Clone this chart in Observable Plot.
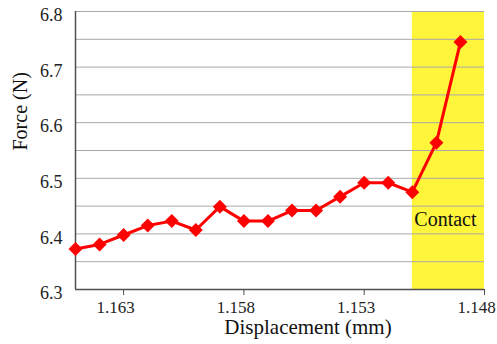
<!DOCTYPE html>
<html>
<head>
<meta charset="utf-8">
<script src="https://cdn.jsdelivr.net/npm/d3@7"></script>
<script src="https://cdn.jsdelivr.net/npm/@observablehq/plot@0.6"></script>
<style>
  html, body { margin: 0; padding: 0; background: #fff; }
  #chart { width: 497px; height: 344px; }
  #chart svg text { font-family: 'Liberation Serif', 'Times New Roman', serif !important; font-variant: normal !important; }
</style>
</head>
<body>
<div id="chart"></div>
<script>
// Displacement (mm), read left to right (axis reversed)
const displacement = [1.165, 1.164, 1.163, 1.162, 1.161, 1.160, 1.159, 1.158, 1.157,
                      1.156, 1.155, 1.154, 1.153, 1.152, 1.151, 1.150, 1.149];
// Force (N)
const force = [6.373, 6.381, 6.398, 6.415, 6.423, 6.407, 6.449, 6.423, 6.423,
               6.442, 6.442, 6.467, 6.492, 6.492, 6.475, 6.564, 6.745];

const xTicks = [1.163, 1.158, 1.153, 1.148];
const yTicks = [6.3, 6.4, 6.5, 6.6, 6.7, 6.8];
const yGrid = [6.35, 6.4, 6.45, 6.5, 6.55, 6.6, 6.65, 6.7, 6.75, 6.8];
const xDomain = [1.165, 1.148];
const yDomain = [6.3, 6.8];

const contactRegion = [{x1: 1.151, x2: 1.148}];
const contactLabel = [{x: 1.151, y: 6.425, text: "Contact"}];
const xTitle = ["Displacement (mm)"];
const yTitle = ["Force (N)"];

const data = displacement.map((d, i) => ({x: d, y: force[i]}));

const font = "Liberation Serif";

const chart = Plot.plot({
  width: 497,
  height: 344,
  marginLeft: 75,
  marginRight: 13,
  marginTop: 11,
  marginBottom: 55,
  style: {fontFamily: font, background: "#fff", color: "#222"},
  x: {domain: xDomain, label: null},
  y: {domain: yDomain, label: null, axis: null},
  marks: [
    Plot.rect(contactRegion, {x1: "x1", x2: "x2", y1: yDomain[0], y2: yDomain[1], fill: "#fff53a"}),
    Plot.gridY(yGrid, {stroke: "#a8a8a8", strokeOpacity: 1, strokeWidth: 1}),
    Plot.ruleY([yDomain[0]], {stroke: "#505050", strokeWidth: 1.5}),
    Plot.ruleX([xDomain[0]], {stroke: "#505050", strokeWidth: 1.5}),
    Plot.axisX(xTicks, {tickSize: 6, stroke: "#505050", label: null, text: null}),
    Plot.textX(xTicks, {x: (d) => d, frameAnchor: "bottom", lineAnchor: "top", dy: 11, dx: -8,
      text: d3.format(".3f"), fontSize: 17, fontFamily: font, fontVariant: "normal", fill: "#222"}),
    Plot.textY(yTicks, {y: (d) => d, frameAnchor: "left", textAnchor: "end", dx: -13, dy: 4,
      text: d3.format(".1f"), fontSize: 18, fontFamily: font, fontVariant: "normal", fill: "#222"}),
    Plot.line(data, {x: "x", y: "y", stroke: "#ff0000", strokeWidth: 3}),
    Plot.dot(data, {x: "x", y: "y", symbol: "diamond2", r: 6.3, fill: "#ff0000", stroke: "none"}),
    Plot.text(contactLabel, {x: "x", y: "y", text: "text", textAnchor: "start", dx: 2, fontSize: 20, fontFamily: font, fill: "#111"}),
    Plot.text(xTitle, {frameAnchor: "bottom", lineAnchor: "middle", dx: 28, dy: 38, fontSize: 21, fontFamily: font, fill: "#111"}),
    Plot.text(yTitle, {frameAnchor: "left", lineAnchor: "middle", dx: -55, rotate: -90, fontSize: 20, fontFamily: font, fill: "#111"})
  ]
});

document.getElementById("chart").appendChild(chart);
</script>
</body>
</html>
